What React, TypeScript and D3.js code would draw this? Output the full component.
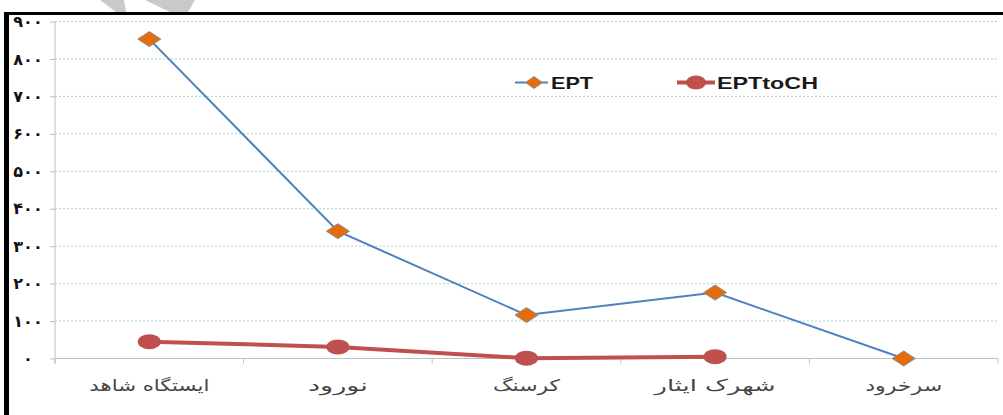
import React, { useEffect, useRef } from 'react';
import * as d3 from 'd3';

const categories = ['ایستگاه شاهد', 'نورود', 'کرسنگ', 'شهرک ایثار', 'سرخرود'];
const eptValues = [853, 340, 116, 176, 0];
const eptToChValues = [45, 31, 1, 5, null];
const yTicks = [0, 100, 200, 300, 400, 500, 600, 700, 800, 900];
// rough label widths (the source is stretched sideways)
const labelWidths = [120, 60, 67, 121, 77];

const width = 1003;
const height = 415;

const faDigits = '۰۱۲۳۴۵۶۷۸۹';
const toFa = (s: string) => s.replace(/\d/g, d => faDigits[+d]);

const App = () => {
    const svgRef = useRef<SVGSVGElement>(null);

    useEffect(() => {
        if (!svgRef.current) return;
        const svg = d3.select(svgRef.current);
        svg.selectAll('*').remove();

        const x = d3.scaleBand<string>().domain(categories).range([55, 998]).padding(0);
        const y = d3.scaleLinear().domain([0, 900]).range([358.5, 21.5]);
        const cx = (i: number) => (x(categories[i]) as number) + x.bandwidth() / 2;

        svg.append('rect').attr('width', width).attr('height', height).attr('fill', '#ffffff');

        // watermark scraps at the top
        svg.append('path').attr('d', 'M100,0 L124,0 L126,12 L116,12 Z').attr('fill', '#c9c9c9');
        svg.append('path').attr('d', 'M145,0 L195,0 L188,12 L170,12 Z').attr('fill', '#c9c9c9');

        // frame
        svg.append('rect').attr('x', 4).attr('y', 12).attr('width', width - 4).attr('height', 3).attr('fill', '#000');
        svg.append('rect').attr('x', 4).attr('y', 12).attr('width', 5).attr('height', height - 12).attr('fill', '#000');

        // gridlines
        svg.append('g')
            .selectAll('line')
            .data(yTicks.filter(d => d > 0))
            .join('line')
            .attr('x1', 55)
            .attr('x2', 999)
            .attr('y1', d => y(d))
            .attr('y2', d => y(d))
            .attr('stroke', '#a6d3d5')
            .attr('stroke-dasharray', '2,2')
            .attr('stroke-width', 1);

        // y axis
        const yAxis = svg.append('g').attr('transform', 'translate(55,0)')
            .call(d3.axisLeft(y).tickValues(yTicks).tickSize(5).tickFormat(() => ''));
        yAxis.select('.domain').attr('stroke', '#bfbfbf').attr('d', `M0,${y(900)}V${y(0) + 5}`);
        yAxis.selectAll('.tick line').attr('stroke', '#bfbfbf');

        svg.append('g')
            .selectAll('text')
            .data(yTicks)
            .join('text')
            .attr('x', 28)
            .attr('y', d => y(d))
            .attr('dy', '0.35em')
            .attr('text-anchor', 'middle')
            .attr('font-family', 'DejaVu Sans, sans-serif')
            .attr('font-weight', 'bold')
            .attr('font-size', 16)
            .attr('letter-spacing', 4)
            .attr('fill', '#111')
            .text(d => toFa(String(d)));

        // x axis
        const xAxis = svg.append('g').attr('transform', `translate(0,${y(0)})`);
        xAxis.append('line').attr('x1', 55).attr('x2', 998).attr('stroke', '#bfbfbf');
        xAxis.selectAll('line.tk')
            .data(d3.range(categories.length + 1))
            .join('line')
            .attr('class', 'tk')
            .attr('x1', i => 55 + i * x.bandwidth())
            .attr('x2', i => 55 + i * x.bandwidth())
            .attr('y1', 0)
            .attr('y2', 5)
            .attr('stroke', '#bfbfbf');

        svg.append('g')
            .selectAll('text')
            .data(categories)
            .join('text')
            .attr('x', (_, i) => cx(i))
            .attr('y', 391)
            .attr('text-anchor', 'middle')
            .attr('font-family', 'DejaVu Sans, sans-serif')
            .attr('font-size', 16)
            .attr('fill', '#454545')
            .attr('textLength', (_, i) => labelWidths[i])
            .attr('lengthAdjust', 'spacingAndGlyphs')
            .text(d => d);

        // EPTtoCH line
        const redPts = eptToChValues
            .map((v, i) => ({ v, i }))
            .filter(d => d.v !== null) as { v: number; i: number }[];
        const line = d3.line<{ v: number; i: number }>().x(d => cx(d.i)).y(d => y(d.v));
        svg.append('path')
            .attr('d', line(redPts))
            .attr('fill', 'none')
            .attr('stroke', '#c0504d')
            .attr('stroke-width', 4);
        svg.append('g')
            .selectAll('ellipse')
            .data(redPts)
            .join('ellipse')
            .attr('cx', d => cx(d.i))
            .attr('cy', d => y(d.v))
            .attr('rx', 11.5)
            .attr('ry', 7.5)
            .attr('fill', '#c0504d');

        // EPT line
        const bluePts = eptValues.map((v, i) => ({ v, i }));
        svg.append('path')
            .attr('d', line(bluePts))
            .attr('fill', 'none')
            .attr('stroke', '#4f81bd')
            .attr('stroke-width', 2);
        const diamond = (w: number, h: number) => `M0,${-h}L${w},0L0,${h}L${-w},0Z`;
        svg.append('g')
            .selectAll('path')
            .data(bluePts)
            .join('path')
            .attr('transform', d => `translate(${cx(d.i)},${y(d.v)})`)
            .attr('d', diamond(11.5, 7.5))
            .attr('fill', '#e46c0a')
            .attr('stroke', '#8c8c8c')
            .attr('stroke-width', 1);

        // legend
        const lg = svg.append('g');
        lg.append('line').attr('x1', 515).attr('x2', 548).attr('y1', 82.5).attr('y2', 82.5)
            .attr('stroke', '#4f81bd').attr('stroke-width', 2);
        lg.append('path').attr('transform', 'translate(534,82.5)').attr('d', diamond(8.5, 6))
            .attr('fill', '#e46c0a').attr('stroke', '#8c8c8c');
        lg.append('text').attr('x', 551).attr('y', 89)
            .attr('font-family', 'Liberation Sans, Arial, sans-serif').attr('font-weight', 'bold')
            .attr('font-size', 17).attr('fill', '#1a1a1a')
            .attr('textLength', 42).attr('lengthAdjust', 'spacingAndGlyphs').text('EPT');
        lg.append('line').attr('x1', 677).attr('x2', 715).attr('y1', 82.5).attr('y2', 82.5)
            .attr('stroke', '#c0504d').attr('stroke-width', 4);
        lg.append('ellipse').attr('cx', 696).attr('cy', 82.5).attr('rx', 10).attr('ry', 7)
            .attr('fill', '#c0504d');
        lg.append('text').attr('x', 717).attr('y', 89)
            .attr('font-family', 'Liberation Sans, Arial, sans-serif').attr('font-weight', 'bold')
            .attr('font-size', 17).attr('fill', '#1a1a1a')
            .attr('textLength', 101).attr('lengthAdjust', 'spacingAndGlyphs').text('EPTtoCH');
    }, []);

    return (
        <svg
            ref={svgRef}
            width={width}
            height={height}
            style={{ position: 'absolute', top: 0, left: 0, display: 'block' }}
        />
    );
};

export default App;
